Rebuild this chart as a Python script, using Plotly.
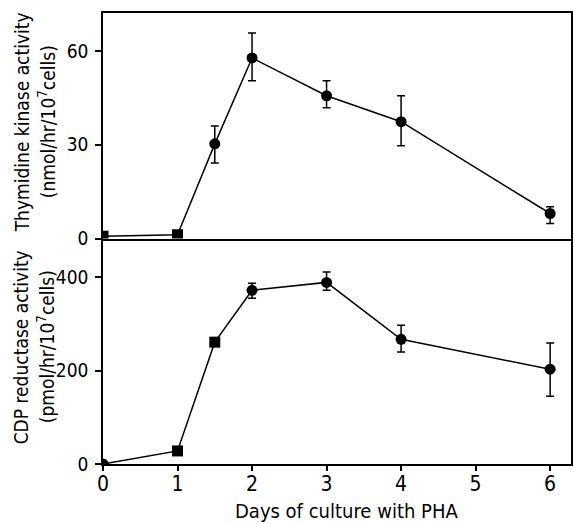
import plotly.graph_objects as go
from plotly.subplots import make_subplots

days = [0, 1, 1.5, 2, 3, 4, 6]
tk_vals = [0.7, 1.2, 30.3, 57.8, 45.7, 37.4, 8.0]
tk_err_plus = [0.0, 0.0, 5.7, 8.0, 4.8, 8.3, 2.2]
tk_err_minus = [0.0, 0.0, 6.1, 7.3, 3.8, 7.7, 3.2]
tk_symbols = ["square", "square", "circle", "circle", "circle", "circle", "circle"]

cdp_vals = [0, 28, 261, 372, 389, 267, 203]
cdp_err_plus = [0, 0, 0, 15, 22, 30, 56]
cdp_err_minus = [0, 0, 0, 17, 17, 27, 58]
cdp_symbols = ["circle", "square", "square", "circle", "circle", "circle", "circle"]

x_ticks = [0, 1, 2, 3, 4, 5, 6]
tk_ticks = [0, 30, 60]
cdp_ticks = [0, 200, 400]

FONT = "DejaVu Sans Condensed, Liberation Sans Narrow, Arial Narrow, sans-serif"
BLACK = "black"

fig = make_subplots(rows=2, cols=1, shared_xaxes=True, vertical_spacing=0)

fig.add_trace(go.Scatter(
    x=days, y=tk_vals, mode="lines+markers",
    line=dict(color=BLACK, width=1.5),
    marker=dict(color=BLACK, size=11, symbol=tk_symbols),
    error_y=dict(type="data", symmetric=False, array=tk_err_plus, arrayminus=tk_err_minus,
                 color=BLACK, thickness=1.5, width=4),
    showlegend=False), row=1, col=1)

fig.add_trace(go.Scatter(
    x=days, y=cdp_vals, mode="lines+markers",
    line=dict(color=BLACK, width=1.5),
    marker=dict(color=BLACK, size=11, symbol=cdp_symbols),
    error_y=dict(type="data", symmetric=False, array=cdp_err_plus, arrayminus=cdp_err_minus,
                 color=BLACK, thickness=1.5, width=4),
    showlegend=False), row=2, col=1)

XR = [0, 6.28]
xtickfont = dict(family=FONT, size=21, color=BLACK)
ytickfont = dict(family=FONT, size=19, color=BLACK)

# top panel x-axis: frame only
fig.update_xaxes(range=XR, showline=True, linecolor=BLACK, linewidth=1.5, mirror=True,
                 showgrid=False, zeroline=False, showticklabels=False, ticks="", row=1, col=1)
# bottom panel x-axis: labels only (no tick marks so labels sit close)
fig.update_xaxes(range=XR, showline=True, linecolor=BLACK, linewidth=1.5, mirror=False,
                 showgrid=False, zeroline=False, tickvals=x_ticks, ticks="",
                 tickfont=xtickfont, row=2, col=1)

# overlay axis giving outside tick marks on the bottom axis
fig.update_layout(xaxis3=dict(range=XR, overlaying="x2", anchor="y2", side="bottom",
                              tickvals=x_ticks, ticks="outside", ticklen=6, tickwidth=1.5,
                              tickcolor=BLACK, showticklabels=False, showgrid=False,
                              zeroline=False, showline=False))
fig.add_trace(go.Scatter(x=[None], y=[None], xaxis="x3", yaxis="y2", showlegend=False,
                         hoverinfo="skip"))

fig.update_yaxes(range=[0, 72.2], tickvals=tk_ticks, ticks="outside", ticklen=6,
                 tickwidth=1.5, tickcolor=BLACK, showline=True, linecolor=BLACK, linewidth=1.5,
                 mirror=True, showgrid=False, zeroline=False, tickfont=ytickfont,
                 ticklabelstandoff=3, row=1, col=1)
fig.update_yaxes(range=[0, 483], tickvals=cdp_ticks, ticks="outside", ticklen=6,
                 tickwidth=1.5, tickcolor=BLACK, showline=True, linecolor=BLACK, linewidth=1.5,
                 mirror=True, showgrid=False, zeroline=False, tickfont=ytickfont,
                 ticklabelstandoff=3, row=2, col=1)

L, R, T, B = 103, 573, 13, 464


def px_x(p):
    return (p - L) / (R - L)


def px_y(p):
    return 1 - (p - T) / (B - T)


ann = [
    dict(text="Thymidine kinase activity", x=22, y=122, a=-90),
    dict(text="(nmol/hr/10<sup>7</sup>cells)", x=47, y=122, a=-90),
    dict(text="CDP reductase activity", x=21, y=347, a=-90),
    dict(text="(pmol/hr/10<sup>7</sup>cells)", x=46, y=347, a=-90),
    dict(text="Days of culture with PHA", x=348, y=511, a=0),
]
for a in ann:
    fig.add_annotation(text=a["text"], xref="paper", yref="paper",
                       x=px_x(a["x"]), y=px_y(a["y"]),
                       textangle=a["a"], showarrow=False,
                       font=dict(family=FONT, size=20 if a["a"] == 0 else 19, color=BLACK),
                       xanchor="center", yanchor="middle")

fig.update_layout(width=574, height=524, margin=dict(l=L, r=574 - R, t=T, b=524 - B),
                  paper_bgcolor="white", plot_bgcolor="white",
                  font=dict(family=FONT, color=BLACK))

fig.write_html("out.html")
